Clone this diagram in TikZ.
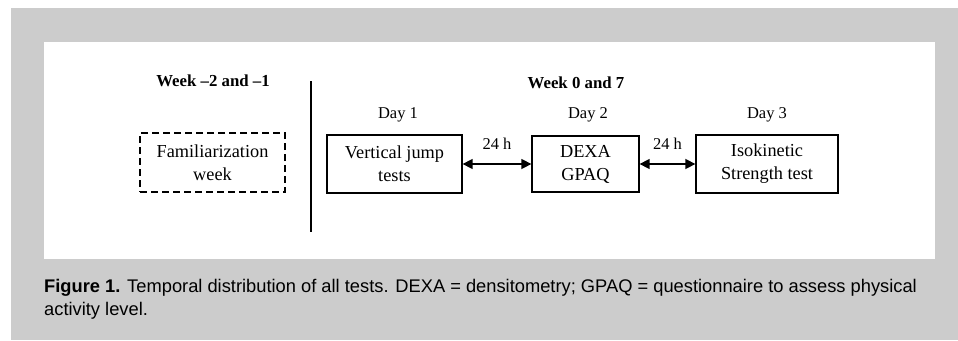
\documentclass[tikz,border=0pt]{standalone}
\usepackage{fontspec}
\setmainfont{Liberation Serif}
\newfontfamily\capfont{Liberation Sans}
\usetikzlibrary{arrows.meta}
\definecolor{panelgray}{HTML}{CCCCCC}
\tikzset{
  box/.style={draw, line width=1.3pt, minimum width=#1, inner sep=0pt, align=center, font=\fontsize{18.3}{23}\selectfont},
  box/.default=100pt,
  lbl/.style={anchor=base, inner sep=0pt, font=\fontsize{16.5}{20}\selectfont},
  hdr/.style={anchor=base, inner sep=0pt, font=\fontsize{16.8}{20}\selectfont\bfseries},
  caption/.style={anchor=base west, inner sep=0pt, font=\capfont\fontsize{18.3}{23}\selectfont},
  dbl/.style={line width=1.5pt, {Triangle[length=10pt,width=10pt]}-{Triangle[length=10pt,width=10pt]}}
}
\begin{document}
\begin{tikzpicture}[x=1pt,y=-1pt]
\useasboundingbox (0,0) rectangle (958,340);
\fill[panelgray] (11,8) rectangle (958,340);
\fill[white] (44,42) rectangle (935,259);

\node[hdr] (wk1) at (213,86) {Week –2 and –1};
\node[hdr] (wk2) at (576,88) {Week 0 and 7};
\node[lbl] (d1) at (398,118) {Day 1};
\node[lbl] (d2) at (588,118) {Day 2};
\node[lbl] (d3) at (767,118) {Day 3};

\node[box=145pt, minimum height=59pt, dashed, dash pattern=on 7pt off 4pt] (fam) at (212.5,162.5) {Familiarization\\week};
\node[box=135pt, minimum height=58pt] (vj) at (394.5,164) {Vertical jump\\tests};
\node[box=107pt, minimum height=56pt] (dexa) at (585.5,164) {DEXA\\GPAQ};
\node[box=142pt, minimum height=58pt] (iso) at (767,164) {Isokinetic\\Strength test};

\coordinate (vtop) at (311,81);
\coordinate (vbot) at (311,232);
\draw[line width=1.3pt] (vtop) -- (vbot);

\draw[dbl] (vj.east) -- (dexa.west) node[lbl, midway, yshift=15pt] (h1) {24 h};
\draw[dbl] (dexa.east) -- (iso.west) node[lbl, midway, yshift=15pt] (h2) {24 h};

\node[caption] (cap1) at (44,292) {\textbf{Figure 1.} Temporal distribution of all tests. DEXA = densitometry; GPAQ = questionnaire to assess physical};
\node[caption] (cap2) at (44,315) {activity level.};
\end{tikzpicture}
\end{document}
